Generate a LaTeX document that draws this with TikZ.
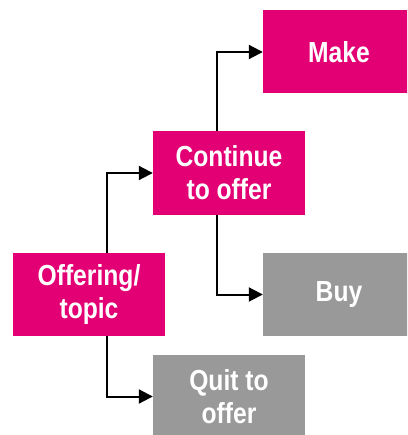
\documentclass[tikz,border=0pt]{standalone}
\usepackage{fontspec}
\setmainfont{Liberation Sans}
\newfontfamily\boxfont[FakeStretch=0.85]{Liberation Sans Bold}
\usetikzlibrary{arrows.meta}
\definecolor{tmag}{HTML}{E20074}
\definecolor{tgray}{HTML}{999999}
\begin{document}
\begin{tikzpicture}[x=1pt,y=-1pt,
  box/.style={minimum width=152pt,minimum height=83pt,inner sep=0pt,text=white,
    align=center,font=\boxfont\fontsize{29}{33}\selectfont},
  magbox/.style={box,fill=tmag},
  graybox/.style={box,fill=tgray},
  arr/.style={line width=2pt,-{Triangle[length=14pt,width=14pt]}}]
\useasboundingbox (0,0) rectangle (407,435);
\clip (0,0) rectangle (407,435);
\node[magbox] (off) at (89,294.5) {Offering/\\topic};
\node[magbox] (cont) at (229,173) {Continue\\to offer};
\node[magbox] (make) at (339,52) {Make};
\node[graybox] (buy) at (339,294.5) {Buy};
\node[graybox] (quit) at (229,396.5) {Quit to\\offer};
\draw[arr] ([xshift=18pt]off.north) |- (cont.west);
\draw[arr] ([xshift=-12pt]cont.north) |- (make.west);
\draw[arr] ([xshift=-12pt]cont.south) |- (buy.west);
\draw[arr] ([xshift=18pt]off.south) |- (quit.west);
\end{tikzpicture}
\end{document}
